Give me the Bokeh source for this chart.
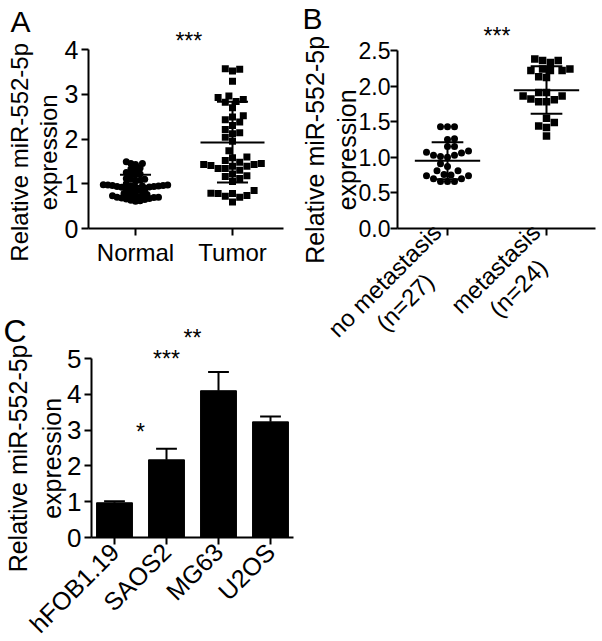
import math
import numpy as np
from bokeh.plotting import figure
from bokeh.models import Range1d, FixedTicker
from bokeh.layouts import column, row
from bokeh.embed import file_html
from bokeh.resources import INLINE
from bokeh.core.properties import value

FONT = "Liberation Sans"

# ---------------- data ----------------
# Panel A
a_groups = ["Normal", "Tumor"]
a_normal = [1.49, 1.45, 1.45, 1.43, 1.35, 1.33, 1.32, 1.25, 1.22, 1.21, 1.20,
            1.12, 1.10, 1.10, 1.08, 1.06, 1.00, 0.98, 0.97, 0.97, 0.96, 0.96,
            0.95, 0.95, 0.95, 0.94, 0.94, 0.93, 0.93, 0.92, 0.88, 0.86, 0.85,
            0.84, 0.82, 0.78, 0.76, 0.75, 0.74, 0.73, 0.72, 0.71, 0.70, 0.70,
            0.69, 0.68, 0.67, 0.66, 0.65, 0.63, 0.62, 0.61]
a_tumor = [3.57, 3.52, 3.56, 3.29, 2.93, 2.96, 2.88, 2.84, 2.82, 2.52, 2.49,
           2.43, 2.38, 2.30, 2.21, 2.14, 2.12, 2.04, 1.74, 1.58, 1.52, 1.48,
           1.43, 1.41, 1.39, 1.34, 1.34, 1.39, 1.43, 1.45, 1.30, 1.22, 1.18,
           1.16, 1.12, 1.05, 0.85, 0.79, 0.78, 0.72, 0.59, 0.70, 0.74, 0.78,
           1.60, 1.95, 2.70]
a_mean = [0.95, 1.92]
a_sd_hi = [1.20, 2.83]
a_sd_lo = [0.71, 1.03]
a_sig = "***"
a_sig_x = 1.55
a_sig_y = 4.2
a_ticks = [0, 1, 2, 3, 4]

# Panel B
b_groups = ["no metastasis\n(n=27)", "metastasis\n(n=24)"]
b_nomet = [1.43, 1.43, 1.43, 1.25, 1.26, 1.15, 1.15, 1.09, 1.03, 1.00, 1.06,
           1.01, 1.03, 1.07, 0.87, 0.81, 0.81, 0.91, 0.76, 0.74, 0.70, 0.66,
           0.66, 0.66, 0.70, 0.74, 0.75]
b_met = [2.36, 2.33, 2.36, 2.38, 2.24, 2.22, 2.22, 2.22, 2.24, 2.13, 2.12,
         1.91, 1.86, 1.81, 1.78, 1.78, 1.82, 1.86, 1.91, 1.55, 1.44, 1.49,
         1.42, 1.30]
b_mean = [0.95, 1.94]
b_sd_hi = [1.21, 2.28]
b_sd_lo = [0.69, 1.61]
b_sig = "***"
b_sig_x = 1.5
b_sig_y = 2.70
b_ticks = [0, 0.5, 1.0, 1.5, 2.0, 2.5]

# Panel C
c_cells = ["hFOB1.19", "SAOS2", "MG63", "U2OS"]
c_values = [0.97, 2.17, 4.10, 3.23]
c_err = [0.04, 0.31, 0.52, 0.15]
c_sig = ["*", "***", "**"]
c_sig_x = [1.5, 2.0, 2.5]
c_sig_y = [2.96, 5.0, 5.56]
c_ticks = [0, 1, 2, 3, 4, 5]

YLABEL = ["Relative miR-552-5p", "expression"]


# ---------------- helpers ----------------
class Geo:
    """pixel geometry of one panel (page pixels)"""
    def __init__(self, ox, oy, w, h, x1px, sx, y0px, sy):
        self.ox, self.oy, self.w, self.h = ox, oy, w, h
        self.x1px, self.sx, self.y0px, self.sy = x1px, sx, y0px, sy

    def dx(self, px):
        return 1 + (px - self.x1px) / self.sx

    def dy(self, py):
        return (self.y0px - py) / self.sy

    def ranges(self):
        return (Range1d(self.dx(self.ox), self.dx(self.ox + self.w)),
                Range1d(self.dy(self.oy + self.h), self.dy(self.oy)))


def swarm(vals, center, sx, sy, dmin):
    """beeswarm layout: lowest values are placed first (centre), higher ones pushed aside"""
    vals = np.asarray(vals, float)
    order = np.argsort(vals, kind="stable")
    placed = []
    xs = np.zeros(len(vals))
    for n, i in enumerate(order):
        py = vals[i] * sy
        j = 0
        while True:
            if j == 0:
                cands = [0.0]
            elif n % 2:
                cands = [j * dmin * 0.5, -j * dmin * 0.5]
            else:
                cands = [-j * dmin * 0.5, j * dmin * 0.5]
            ok = None
            for cx in cands:
                if all((cx - qx) ** 2 + (py - qy) ** 2 >= dmin ** 2 for qx, qy in placed):
                    ok = cx
                    break
            if ok is not None:
                break
            j += 1
        placed.append((ok, py))
        xs[i] = center + ok / sx
    return xs


def make_fig(g):
    xr, yr = g.ranges()
    p = figure(width=g.w, height=g.h, output_backend="svg", toolbar_location=None,
               x_range=xr, y_range=yr, title=None,
               min_border_left=0, min_border_right=0, min_border_top=0, min_border_bottom=0)
    p.outline_line_color = None
    p.background_fill_color = "white"
    p.border_fill_color = "white"
    p.xgrid.visible = False
    p.ygrid.visible = False
    return p


def style_axes(p, tick_size, xlab_size, ylab_size, ylab_lh, ylab_standoff, pad, ytick_standoff=3):
    for ax in (p.xaxis[0], p.yaxis[0]):
        ax.axis_line_width = 2
        ax.axis_line_color = "black"
        ax.major_tick_line_width = 2
        ax.major_tick_line_color = "black"
        ax.major_tick_out = 7
        ax.major_tick_in = 0
        ax.minor_tick_line_color = None
        ax.major_label_text_font = FONT
        ax.major_label_text_color = "black"
        ax.axis_label_text_font = FONT
        ax.axis_label_text_font_style = "normal"
        ax.axis_label_text_color = "black"
        ax.major_label_standoff = 3
    p.yaxis.major_label_standoff = ytick_standoff
    p.yaxis.major_label_text_font_size = tick_size
    p.xaxis.major_label_text_font_size = xlab_size
    p.xaxis.major_label_text_line_height = 1.1
    p.yaxis.axis_label_text_font_size = ylab_size
    p.yaxis.axis_label_text_line_height = ylab_lh
    p.yaxis.axis_label_standoff = ylab_standoff
    nb = "\u00a0" * pad
    p.yaxis.axis_label = "\n".join(s + nb for s in YLABEL)


def letter(p, g, txt, px, py, size="30px"):
    p.text(x=[g.dx(px)], y=[g.dy(py)], text=[txt], text_font=value(FONT), text_font_size=size,
           text_align="left", text_baseline="middle", text_color="black")


def stars(p, xs, ys, txts, size="23px"):
    p.text(x=xs, y=ys, text=txts, text_font=value(FONT), text_font_size=size,
           text_align="center", text_baseline="alphabetic", text_color="black")


def mean_sd(p, centers, means, his, los, half_mean, half_cap):
    centers = np.asarray(centers, float)
    kw = dict(line_color="black", line_width=2)
    p.segment(centers - half_mean, means, centers + half_mean, means, **kw)
    p.segment(centers, los, centers, his, **kw)
    p.segment(centers - half_cap, his, centers + half_cap, his, **kw)
    p.segment(centers - half_cap, los, centers + half_cap, los, **kw)


# ---------------- Panel A ----------------
gA = Geo(ox=0, oy=0, w=300, h=312, x1px=135, sx=97.0, y0px=228, sy=44.75)
pA = make_fig(gA)
style_axes(pA, "25px", "24px", "24px", 1.05, 0, 4)
pA.xaxis.fixed_location = 0
pA.yaxis.fixed_location = gA.dx(88)
pA.xaxis.bounds = (gA.dx(88), gA.dx(283))
pA.yaxis.bounds = (0, 4)
pA.xaxis.ticker = FixedTicker(ticks=[1, 2])
pA.xaxis.major_label_overrides = {1: a_groups[0], 2: a_groups[1]}
pA.yaxis.ticker = FixedTicker(ticks=a_ticks)
pA.scatter(swarm(a_normal, 1, gA.sx, gA.sy, 4.6), a_normal, marker="circle", size=7,
           fill_color="black", line_color=None)
pA.scatter(swarm(a_tumor, 2, gA.sx, gA.sy, 7.2), a_tumor, marker="square", size=7,
           fill_color="black", line_color=None)
mean_sd(pA, [1, 2], a_mean, a_sd_hi, a_sd_lo, 0.33, 0.16)
stars(pA, [a_sig_x], [a_sig_y], [a_sig])
letter(pA, gA, "A", 10, 21)

# ---------------- Panel B ----------------
gB = Geo(ox=300, oy=0, w=300, h=345, x1px=447, sx=99.0, y0px=228, sy=71.2)
pB = make_fig(gB)
style_axes(pB, "23px", "24px", "25px", 1.12, -5, 3, ytick_standoff=0)
pB.xaxis.fixed_location = 0
pB.yaxis.fixed_location = gB.dx(397)
pB.xaxis.bounds = (gB.dx(397), gB.dx(595))
pB.yaxis.bounds = (0, 2.5)
pB.xaxis.ticker = FixedTicker(ticks=[1, 2])
NB = "\u00a0"
pB.xaxis.major_label_overrides = {1: b_groups[0] + NB * 6, 2: b_groups[1] + NB * 3}
pB.xaxis.major_label_orientation = math.pi / 4
pB.yaxis.ticker = FixedTicker(ticks=b_ticks)
pB.yaxis.major_label_overrides = {t: f"{t:.1f}" for t in b_ticks}
pB.scatter(swarm(b_nomet, 1, gB.sx, gB.sy, 7.0), b_nomet, marker="circle", size=7,
           fill_color="black", line_color=None)
pB.scatter(swarm(b_met, 2, gB.sx, gB.sy, 7.8), b_met, marker="square", size=7.5,
           fill_color="black", line_color=None)
mean_sd(pB, [1, 2], b_mean, b_sd_hi, b_sd_lo, 0.33, 0.16)
stars(pB, [b_sig_x], [b_sig_y], [b_sig])
letter(pB, gB, "B", 302, 18)

# ---------------- Panel C ----------------
gC = Geo(ox=0, oy=312, w=300, h=328, x1px=114, sx=52.0, y0px=537, sy=35.8)
pC = make_fig(gC)
style_axes(pC, "26px", "25px", "25px", 1.2, -2, 3)
pos = [1, 2, 3, 4]
pC.xaxis.fixed_location = 0
pC.yaxis.fixed_location = gC.dx(91)
pC.xaxis.bounds = (gC.dx(91), gC.dx(293))
pC.yaxis.bounds = (0, 5)
pC.xaxis.ticker = FixedTicker(ticks=pos)
pC.xaxis.major_label_overrides = {i + 1: c for i, c in enumerate(c_cells)}
pC.xaxis.major_label_orientation = math.pi / 4
pC.yaxis.ticker = FixedTicker(ticks=c_ticks)
pC.vbar(x=pos, top=c_values, bottom=0, width=0.69, fill_color="black", line_color="black", line_width=1)
tops = np.array(c_values) + np.array(c_err)
pC.segment(pos, c_values, pos, tops, line_color="black", line_width=2)
pC.segment(np.array(pos) - 0.2, tops, np.array(pos) + 0.2, tops, line_color="black", line_width=2)
stars(pC, c_sig_x, c_sig_y, c_sig)
letter(pC, gC, "C", 3, 330, size="32px")

layout = row(column(pA, pC), pB)
open("out.html", "w").write(file_html(layout, INLINE))
